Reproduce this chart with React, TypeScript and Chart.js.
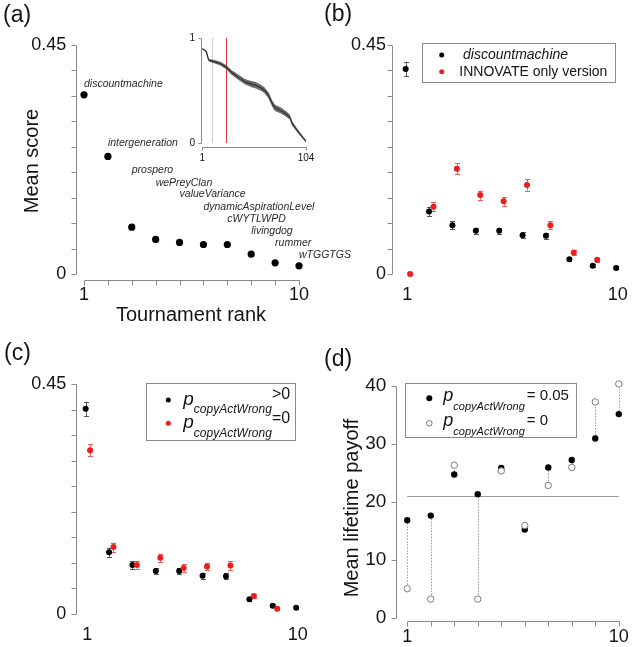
import React, { useEffect, useRef } from 'react';
import { Chart, registerables } from 'chart.js';

Chart.register(...registerables);

const FONT = '"Liberation Sans", Arial, Helvetica, sans-serif';
const PAGE_W = 634;
const PAGE_H = 647;

// ---------------- data ----------------
const RANKS = [1, 2, 3, 4, 5, 6, 7, 8, 9, 10];
const RANK_TICKS = [1, 2, 3, 4, 5, 6, 7, 8, 9, 10];
const RANK_LABELED = [1, 10];
const SCORE_TICKS = [0, 0.05, 0.1, 0.15, 0.2, 0.25, 0.3, 0.35, 0.4, 0.45];
const SCORE_LABELED = [0, 0.45];
const PAYOFF_TICKS = [0, 10, 20, 30, 40];

// (a) top-10 strategies
const TOP_NAMES = [
  'discountmachine', 'intergeneration', 'prospero', 'wePreyClan', 'valueVariance',
  'dynamicAspirationLevel', 'cWYTLWPD', 'livingdog', 'rummer', 'wTGGTGS',
];
const MEAN_SCORE_A = [0.352, 0.231, 0.092, 0.068, 0.062, 0.058, 0.058, 0.039, 0.022, 0.016];
const NAME_LABEL_Y_A = [0.373, 0.257, 0.204, 0.179, 0.157, 0.132, 0.108, 0.085, 0.060, 0.037];

// (a) inset: all 104 strategies
const INSET_RANK = [1, 3, 5, 7, 8, 12, 19, 25, 30, 37, 43, 47, 50, 54, 57, 60, 63, 67, 70, 72, 74, 78, 81, 85, 88, 90, 93, 98, 104];
const INSET_SCORE = [0.898, 0.885, 0.868, 0.80, 0.787, 0.778, 0.755, 0.721, 0.673, 0.625, 0.585, 0.570, 0.560, 0.550, 0.537, 0.522, 0.500, 0.450, 0.385, 0.350, 0.330, 0.315, 0.298, 0.272, 0.245, 0.190, 0.150, 0.086, 0.016];
const INSET_ERR = [0.004, 0.004, 0.006, 0.01, 0.013, 0.015, 0.018, 0.02, 0.022, 0.024, 0.026, 0.028, 0.03, 0.03, 0.03, 0.028, 0.028, 0.028, 0.03, 0.03, 0.03, 0.03, 0.028, 0.026, 0.024, 0.022, 0.018, 0.014, 0.008];
const INSET_X_TICKS = [1, 104];
const INSET_Y_TICKS = [0, 1];
const INSET_GREY_RANK = 11;
const INSET_RED_RANK = 25;

// (b)
const DM_SCORE_B = [0.403, 0.123, 0.096, 0.085, 0.085, 0.076, 0.075, 0.029, 0.016, 0.012];
const DM_ERR_B = [0.014, 0.009, 0.008, 0.006, 0.006, 0.006, 0.006, 0.004, 0.003, 0.003];
const INNOVATE_SCORE_B = [0.0, 0.132, 0.207, 0.155, 0.143, 0.175, 0.096, 0.042, 0.028];
const INNOVATE_ERR_B = [0.002, 0.009, 0.011, 0.009, 0.0085, 0.011, 0.008, 0.005, 0.004];

// (c)
const COPY_POS_SCORE_C = [0.402, 0.121, 0.096, 0.084, 0.084, 0.075, 0.074, 0.029, 0.016, 0.012];
const COPY_POS_ERR_C = [0.014, 0.009, 0.008, 0.006, 0.006, 0.006, 0.006, 0.004, 0.003, 0.003];
const COPY_ZERO_SCORE_C = [0.321, 0.131, 0.096, 0.110, 0.090, 0.093, 0.095, 0.035, 0.010];
const COPY_ZERO_ERR_C = [0.012, 0.009, 0.007, 0.008, 0.007, 0.007, 0.008, 0.004, 0.003];

// (d)
const PAYOFF_005_D = [16.8, 17.6, 24.7, 21.3, 25.8, 15.2, 25.9, 27.2, 30.9, 35.1];
const PAYOFF_0_D = [5.0, 3.2, 26.3, 3.2, 25.3, 15.9, 22.8, 25.9, 37.2, 40.3];
const PAYOFF_REFERENCE_D = 21.0;

// ---------------- styling ----------------
const AXIS_GREY = '#8a8a8a';
const TEXT = '#141414';
const RED = '#ee1c1c';
const DODGE_BLACK = -0.07;
const DODGE_RED = 0.12;

type Area = { left: number; top: number; right: number; bottom: number };

const near = (a: number, b: number) => Math.abs(a - b) < 1e-9;
const labelIf = (list: number[], fmt: (v: number) => string) => (v: number) =>
  list.some((t) => near(t, v)) ? fmt(v) : '';

function scaleOpts(axis: 'x' | 'y', min: number, max: number, ticks: number[], label: (v: number) => string, size: number, padding: number, box: number) {
  return {
    type: 'linear',
    position: axis === 'x' ? 'bottom' : 'left',
    min,
    max,
    afterFit: (s: any) => {
      if (axis === 'x') s.height = box;
      else s.width = box;
    },
    afterBuildTicks: (s: any) => {
      s.ticks = ticks.map((v) => ({ value: v }));
    },
    grid: { display: false, drawTicks: false },
    border: { display: false },
    ticks: {
      autoSkip: false,
      maxRotation: 0,
      minRotation: 0,
      padding,
      color: TEXT,
      font: { family: FONT, size },
      callback: (v: any) => label(Number(v)),
    },
  };
}

// area = desired chart area in page px; xBox / yBox = room kept for tick labels
function baseConfig(type: string, area: Area, xBox: number, yBox: number, scales: any, datasets: any[], plugins: any[]): any {
  return {
    type,
    data: { datasets },
    options: {
      responsive: false,
      maintainAspectRatio: false,
      animation: false,
      events: [],
      layout: {
        autoPadding: false,
        padding: {
          left: area.left - yBox,
          top: area.top,
          right: PAGE_W - area.right,
          bottom: PAGE_H - area.bottom - xBox,
        },
      },
      plugins: { legend: { display: false }, tooltip: { enabled: false } },
      scales,
    },
    plugins,
  };
}

function rAxes(id: string, spec: { x?: number[]; y?: number[]; tick: number }) {
  return {
    id,
    beforeDatasetsDraw(chart: any) {
      const { ctx, chartArea } = chart;
      const xs = chart.scales.x;
      const ys = chart.scales.y;
      ctx.save();
      ctx.strokeStyle = AXIS_GREY;
      ctx.lineWidth = 1;
      ctx.beginPath();
      if (spec.x) {
        const y0 = Math.round(chartArea.bottom) + 0.5;
        const px = spec.x.map((v) => Math.round(xs.getPixelForValue(v)) + 0.5);
        ctx.moveTo(px[0], y0);
        ctx.lineTo(px[px.length - 1], y0);
        px.forEach((p) => {
          ctx.moveTo(p, y0);
          ctx.lineTo(p, y0 + spec.tick);
        });
      }
      if (spec.y) {
        const x0 = Math.round(chartArea.left) + 0.5;
        const py = spec.y.map((v) => Math.round(ys.getPixelForValue(v)) + 0.5);
        ctx.moveTo(x0, py[0]);
        ctx.lineTo(x0, py[py.length - 1]);
        py.forEach((p) => {
          ctx.moveTo(x0, p);
          ctx.lineTo(x0 - spec.tick, p);
        });
      }
      ctx.stroke();
      ctx.restore();
    },
  };
}

type ErrSeries = { xs: number[]; ys: number[]; errs: number[]; color: string };

function errorBars(id: string, series: ErrSeries[], cap: number) {
  return {
    id,
    beforeDatasetsDraw(chart: any) {
      const { ctx } = chart;
      const xs = chart.scales.x;
      const ys = chart.scales.y;
      ctx.save();
      ctx.lineWidth = 1;
      series.forEach((s) => {
        ctx.strokeStyle = s.color;
        ctx.beginPath();
        s.ys.forEach((v, i) => {
          const px = Math.round(xs.getPixelForValue(s.xs[i])) + 0.5;
          const y1 = ys.getPixelForValue(v - s.errs[i]);
          const y2 = ys.getPixelForValue(v + s.errs[i]);
          ctx.moveTo(px, y1);
          ctx.lineTo(px, y2);
          ctx.moveTo(px - cap, Math.round(y1) + 0.5);
          ctx.lineTo(px + cap, Math.round(y1) + 0.5);
          ctx.moveTo(px - cap, Math.round(y2) + 0.5);
          ctx.lineTo(px + cap, Math.round(y2) + 0.5);
        });
        ctx.stroke();
      });
      ctx.restore();
    },
  };
}

function drawText(ctx: any, s: string, x: number, y: number, font: string, color: string, align = 'left', baseline = 'alphabetic') {
  ctx.save();
  ctx.font = font;
  ctx.fillStyle = color;
  ctx.textAlign = align;
  ctx.textBaseline = baseline;
  ctx.fillText(s, x, y);
  ctx.restore();
}

function drawRotated(ctx: any, s: string, x: number, y: number, font: string) {
  ctx.save();
  ctx.translate(x, y);
  ctx.rotate(-Math.PI / 2);
  ctx.font = font;
  ctx.fillStyle = TEXT;
  ctx.textAlign = 'center';
  ctx.textBaseline = 'alphabetic';
  ctx.fillText(s, 0, 0);
  ctx.restore();
}

function dot(ctx: any, x: number, y: number, r: number, fill: string, stroke?: string) {
  ctx.save();
  ctx.beginPath();
  ctx.arc(x, y, r, 0, Math.PI * 2);
  ctx.fillStyle = fill;
  ctx.fill();
  if (stroke) {
    ctx.strokeStyle = stroke;
    ctx.lineWidth = 1;
    ctx.stroke();
  }
  ctx.restore();
}

// p_{copyActWrong} rel
function pExpr(ctx: any, x: number, base: number, sizes: { p: number; sub: number; rel: number }, subDrop: number, relRise: number, rel: string, relGap: number) {
  ctx.save();
  ctx.fillStyle = TEXT;
  ctx.textAlign = 'left';
  ctx.textBaseline = 'alphabetic';
  ctx.font = `italic ${sizes.p}px ${FONT}`;
  ctx.fillText('p', x, base);
  const pw = ctx.measureText('p').width;
  ctx.font = `italic ${sizes.sub}px ${FONT}`;
  ctx.fillText('copyActWrong', x + pw, base + subDrop);
  const sw = ctx.measureText('copyActWrong').width;
  ctx.font = `${sizes.rel}px ${FONT}`;
  ctx.fillText(rel, x + pw + sw + relGap, base - relRise);
  ctx.restore();
}

function legendBox(ctx: any, l: number, t: number, r: number, b: number) {
  ctx.save();
  ctx.strokeStyle = AXIS_GREY;
  ctx.lineWidth = 1;
  ctx.strokeRect(Math.round(l) + 0.5, Math.round(t) + 0.5, Math.round(r - l), Math.round(b - t));
  ctx.restore();
}

const scoreLabel = labelIf(SCORE_LABELED, (v) => (near(v, 0) ? '0' : String(v)));
const rankLabel = labelIf(RANK_LABELED, (v) => String(v));

const pts = (xs: number[], ys: number[], dx = 0) => ys.map((y, i) => ({ x: xs[i] + dx, y }));

// ---------------- chart configs ----------------
function configA() {
  const area = { left: 76.3, top: 45, right: 306, bottom: 280 };
  return baseConfig(
    'scatter',
    area,
    26,
    60,
    {
      x: scaleOpts('x', 0.678, 10.293, RANK_TICKS, rankLabel, 18, 4, 26),
      y: scaleOpts('y', -0.0118, 0.45, SCORE_TICKS, scoreLabel, 18, 10, 60),
    },
    [
      {
        data: pts(RANKS, MEAN_SCORE_A),
        pointRadius: 3.6,
        pointBackgroundColor: '#000',
        pointBorderColor: '#000',
        pointBorderWidth: 0,
        clip: false,
      },
    ],
    [
      rAxes('axesA', { x: RANK_TICKS, y: SCORE_TICKS, tick: 5 }),
      {
        id: 'textA',
        afterDatasetsDraw(chart: any) {
          const { ctx } = chart;
          const xs = chart.scales.x;
          const ys = chart.scales.y;
          TOP_NAMES.forEach((n, i) => {
            drawText(ctx, n, xs.getPixelForValue(RANKS[i]), ys.getPixelForValue(NAME_LABEL_Y_A[i]), `italic 10.5px ${FONT}`, '#2a2a2a', 'left', 'middle');
          });
          drawText(ctx, '(a)', 3, 16, `23px ${FONT}`, TEXT, 'left', 'middle');
          drawRotated(ctx, 'Mean score', 38, 161, `20px ${FONT}`);
          drawText(ctx, 'Tournament rank', 191, 321, `20px ${FONT}`, TEXT, 'center');
        },
      },
    ]
  );
}

function configInset() {
  const area = { left: 201, top: 38, right: 306, bottom: 147 };
  const lower = pts(INSET_RANK, INSET_SCORE.map((v, i) => v - INSET_ERR[i]));
  const upper = pts(INSET_RANK, INSET_SCORE.map((v, i) => v + INSET_ERR[i]));
  return baseConfig(
    'line',
    area,
    18,
    20,
    {
      x: scaleOpts('x', -0.3, 104, INSET_X_TICKS, (v) => String(v), 10, 5, 18),
      y: scaleOpts('y', -0.038, 1, INSET_Y_TICKS, (v) => String(v), 10, 6, 20),
    },
    [
      { data: lower, borderColor: 'transparent', pointRadius: 0, fill: false, tension: 0 },
      { data: upper, borderColor: 'transparent', pointRadius: 0, fill: '-1', backgroundColor: 'rgba(60,60,60,0.75)', tension: 0 },
      { data: pts(INSET_RANK, INSET_SCORE), borderColor: '#111', borderWidth: 1.2, pointRadius: 0, fill: false, tension: 0 },
    ],
    [
      rAxes('axesInset', { x: INSET_X_TICKS, y: INSET_Y_TICKS, tick: 3 }),
      {
        id: 'insetLines',
        beforeDatasetsDraw(chart: any) {
          const { ctx } = chart;
          const xs = chart.scales.x;
          const ys = chart.scales.y;
          const y0 = ys.getPixelForValue(0);
          const y1 = ys.getPixelForValue(1);
          ctx.save();
          ctx.lineWidth = 1;
          ctx.strokeStyle = '#cfcfcf';
          const g = Math.round(xs.getPixelForValue(INSET_GREY_RANK)) + 0.5;
          ctx.beginPath();
          ctx.moveTo(g, y0);
          ctx.lineTo(g, y1);
          ctx.stroke();
          ctx.strokeStyle = '#e23a3a';
          const r = Math.round(xs.getPixelForValue(INSET_RED_RANK)) + 0.5;
          ctx.beginPath();
          ctx.moveTo(r, y0);
          ctx.lineTo(r, y1);
          ctx.stroke();
          ctx.restore();
        },
      },
    ]
  );
}

function configB() {
  const area = { left: 392, top: 45, right: 625, bottom: 280 };
  return baseConfig(
    'scatter',
    area,
    26,
    60,
    {
      x: scaleOpts('x', 0.346, 10.31, RANK_TICKS, rankLabel, 18, 4, 26),
      y: scaleOpts('y', -0.0118, 0.45, SCORE_TICKS, scoreLabel, 18, 6, 60),
    },
    [
      { data: pts(RANKS, INNOVATE_SCORE_B, DODGE_RED), pointRadius: 3, pointBackgroundColor: RED, pointBorderColor: RED, pointBorderWidth: 0, clip: false },
      { data: pts(RANKS, DM_SCORE_B, DODGE_BLACK), pointRadius: 3, pointBackgroundColor: '#000', pointBorderColor: '#000', pointBorderWidth: 0, clip: false },
    ],
    [
      rAxes('axesB', { y: SCORE_TICKS, tick: 5 }),
      errorBars('errB', [
        { xs: RANKS.map((r) => r + DODGE_BLACK), ys: DM_SCORE_B, errs: DM_ERR_B, color: '#555' },
        { xs: RANKS.map((r) => r + DODGE_RED), ys: INNOVATE_SCORE_B, errs: INNOVATE_ERR_B, color: '#e06060' },
      ], 2.5),
      {
        id: 'textB',
        afterDatasetsDraw(chart: any) {
          const { ctx } = chart;
          drawText(ctx, '(b)', 324, 15, `23px ${FONT}`, TEXT, 'left', 'middle');
          legendBox(ctx, 421.7, 43.3, 614.3, 82.7);
          dot(ctx, 441.7, 55, 2.5, '#000');
          dot(ctx, 441.7, 71.7, 2.5, RED);
          drawText(ctx, 'discountmachine', 463, 55, `italic 14px ${FONT}`, TEXT, 'left', 'middle');
          drawText(ctx, 'INNOVATE only version', 459.3, 72.3, `14px ${FONT}`, TEXT, 'left', 'middle');
        },
      },
    ]
  );
}

function configC() {
  const area = { left: 76.3, top: 384.3, right: 305, bottom: 620 };
  return baseConfig(
    'scatter',
    area,
    26,
    60,
    {
      x: scaleOpts('x', 0.53, 10.31, RANK_TICKS, rankLabel, 18, 4, 26),
      y: scaleOpts('y', -0.0118, 0.45, SCORE_TICKS, scoreLabel, 18, 10, 60),
    },
    [
      { data: pts(RANKS, COPY_ZERO_SCORE_C, DODGE_RED), pointRadius: 3, pointBackgroundColor: RED, pointBorderColor: RED, pointBorderWidth: 0, clip: false },
      { data: pts(RANKS, COPY_POS_SCORE_C, DODGE_BLACK), pointRadius: 3, pointBackgroundColor: '#000', pointBorderColor: '#000', pointBorderWidth: 0, clip: false },
    ],
    [
      rAxes('axesC', { y: SCORE_TICKS, tick: 5 }),
      errorBars('errC', [
        { xs: RANKS.map((r) => r + DODGE_BLACK), ys: COPY_POS_SCORE_C, errs: COPY_POS_ERR_C, color: '#555' },
        { xs: RANKS.map((r) => r + DODGE_RED), ys: COPY_ZERO_SCORE_C, errs: COPY_ZERO_ERR_C, color: '#e06060' },
      ], 2.5),
      {
        id: 'textC',
        afterDatasetsDraw(chart: any) {
          const { ctx } = chart;
          drawText(ctx, '(c)', 4, 354, `23px ${FONT}`, TEXT, 'left', 'middle');
          legendBox(ctx, 146, 382.7, 295, 439.3);
          dot(ctx, 168.3, 400, 2.5, '#000');
          dot(ctx, 168.3, 423.3, 2.5, RED);
          const sizes = { p: 19, sub: 12, rel: 16 };
          pExpr(ctx, 183.3, 405, sizes, 8.3, 5.7, '>0', 0);
          pExpr(ctx, 183.3, 428.3, sizes, 8.3, 5.7, '=0', 0);
        },
      },
    ]
  );
}

function configD() {
  const area = { left: 396.3, top: 385.7, right: 627, bottom: 621 };
  return baseConfig(
    'scatter',
    area,
    26,
    60,
    {
      x: scaleOpts('x', 0.5345, 10.296, RANK_TICKS, rankLabel, 18, 5, 26),
      y: scaleOpts('y', -0.57, 40, PAYOFF_TICKS, (v) => String(v), 19, 10, 60),
    },
    [
      { data: pts(RANKS, PAYOFF_0_D), pointRadius: 3.2, pointBackgroundColor: '#fff', pointBorderColor: '#7a7a7a', pointBorderWidth: 1, clip: false },
      { data: pts(RANKS, PAYOFF_005_D), pointRadius: 3.2, pointBackgroundColor: '#000', pointBorderColor: '#000', pointBorderWidth: 0, clip: false },
    ],
    [
      rAxes('axesD', { x: RANK_TICKS, y: PAYOFF_TICKS, tick: 5 }),
      {
        id: 'linksD',
        beforeDatasetsDraw(chart: any) {
          const { ctx } = chart;
          const xs = chart.scales.x;
          const ys = chart.scales.y;
          ctx.save();
          ctx.lineWidth = 1;
          ctx.strokeStyle = '#9a9a9a';
          const hy = Math.round(ys.getPixelForValue(PAYOFF_REFERENCE_D)) + 0.5;
          ctx.beginPath();
          ctx.moveTo(xs.getPixelForValue(RANKS[0]), hy);
          ctx.lineTo(xs.getPixelForValue(RANKS[RANKS.length - 1]), hy);
          ctx.stroke();
          ctx.setLineDash([1.5, 1.5]);
          ctx.beginPath();
          RANKS.forEach((r, i) => {
            const px = Math.round(xs.getPixelForValue(r)) + 0.5;
            ctx.moveTo(px, ys.getPixelForValue(PAYOFF_005_D[i]));
            ctx.lineTo(px, ys.getPixelForValue(PAYOFF_0_D[i]));
          });
          ctx.stroke();
          ctx.restore();
        },
      },
      {
        id: 'textD',
        afterDatasetsDraw(chart: any) {
          const { ctx } = chart;
          drawText(ctx, '(d)', 324, 360, `23px ${FONT}`, TEXT, 'left', 'middle');
          drawRotated(ctx, 'Mean lifetime payoff', 358, 508, `20px ${FONT}`);
          legendBox(ctx, 405, 382.7, 576, 436.7);
          dot(ctx, 429.3, 398.3, 3, '#000');
          dot(ctx, 429.3, 423.3, 2.8, '#fff', '#7a7a7a');
          const sizes = { p: 18, sub: 11, rel: 15 };
          pExpr(ctx, 443.3, 400.7, sizes, 9, 0.5, '= 0.05', 2);
          pExpr(ctx, 443.3, 425.7, sizes, 9, 0.5, '= 0', 2);
        },
      },
    ]
  );
}

export default function App() {
  const refA = useRef<HTMLCanvasElement>(null);
  const refInset = useRef<HTMLCanvasElement>(null);
  const refB = useRef<HTMLCanvasElement>(null);
  const refC = useRef<HTMLCanvasElement>(null);
  const refD = useRef<HTMLCanvasElement>(null);

  useEffect(() => {
    Chart.defaults.font.family = FONT;
    const charts = [
      new Chart(refA.current as HTMLCanvasElement, configA()),
      new Chart(refInset.current as HTMLCanvasElement, configInset()),
      new Chart(refB.current as HTMLCanvasElement, configB()),
      new Chart(refC.current as HTMLCanvasElement, configC()),
      new Chart(refD.current as HTMLCanvasElement, configD()),
    ];
    return () => charts.forEach((c) => c.destroy());
  }, []);

  const cs: React.CSSProperties = { position: 'absolute', left: 0, top: 0, width: PAGE_W, height: PAGE_H };
  return (
    <div style={{ position: 'fixed', left: 0, top: 0, width: PAGE_W, height: PAGE_H, background: '#fff', overflow: 'hidden' }}>
      <canvas ref={refA} width={PAGE_W} height={PAGE_H} style={cs} />
      <canvas ref={refInset} width={PAGE_W} height={PAGE_H} style={cs} />
      <canvas ref={refB} width={PAGE_W} height={PAGE_H} style={cs} />
      <canvas ref={refC} width={PAGE_W} height={PAGE_H} style={cs} />
      <canvas ref={refD} width={PAGE_W} height={PAGE_H} style={cs} />
    </div>
  );
}
